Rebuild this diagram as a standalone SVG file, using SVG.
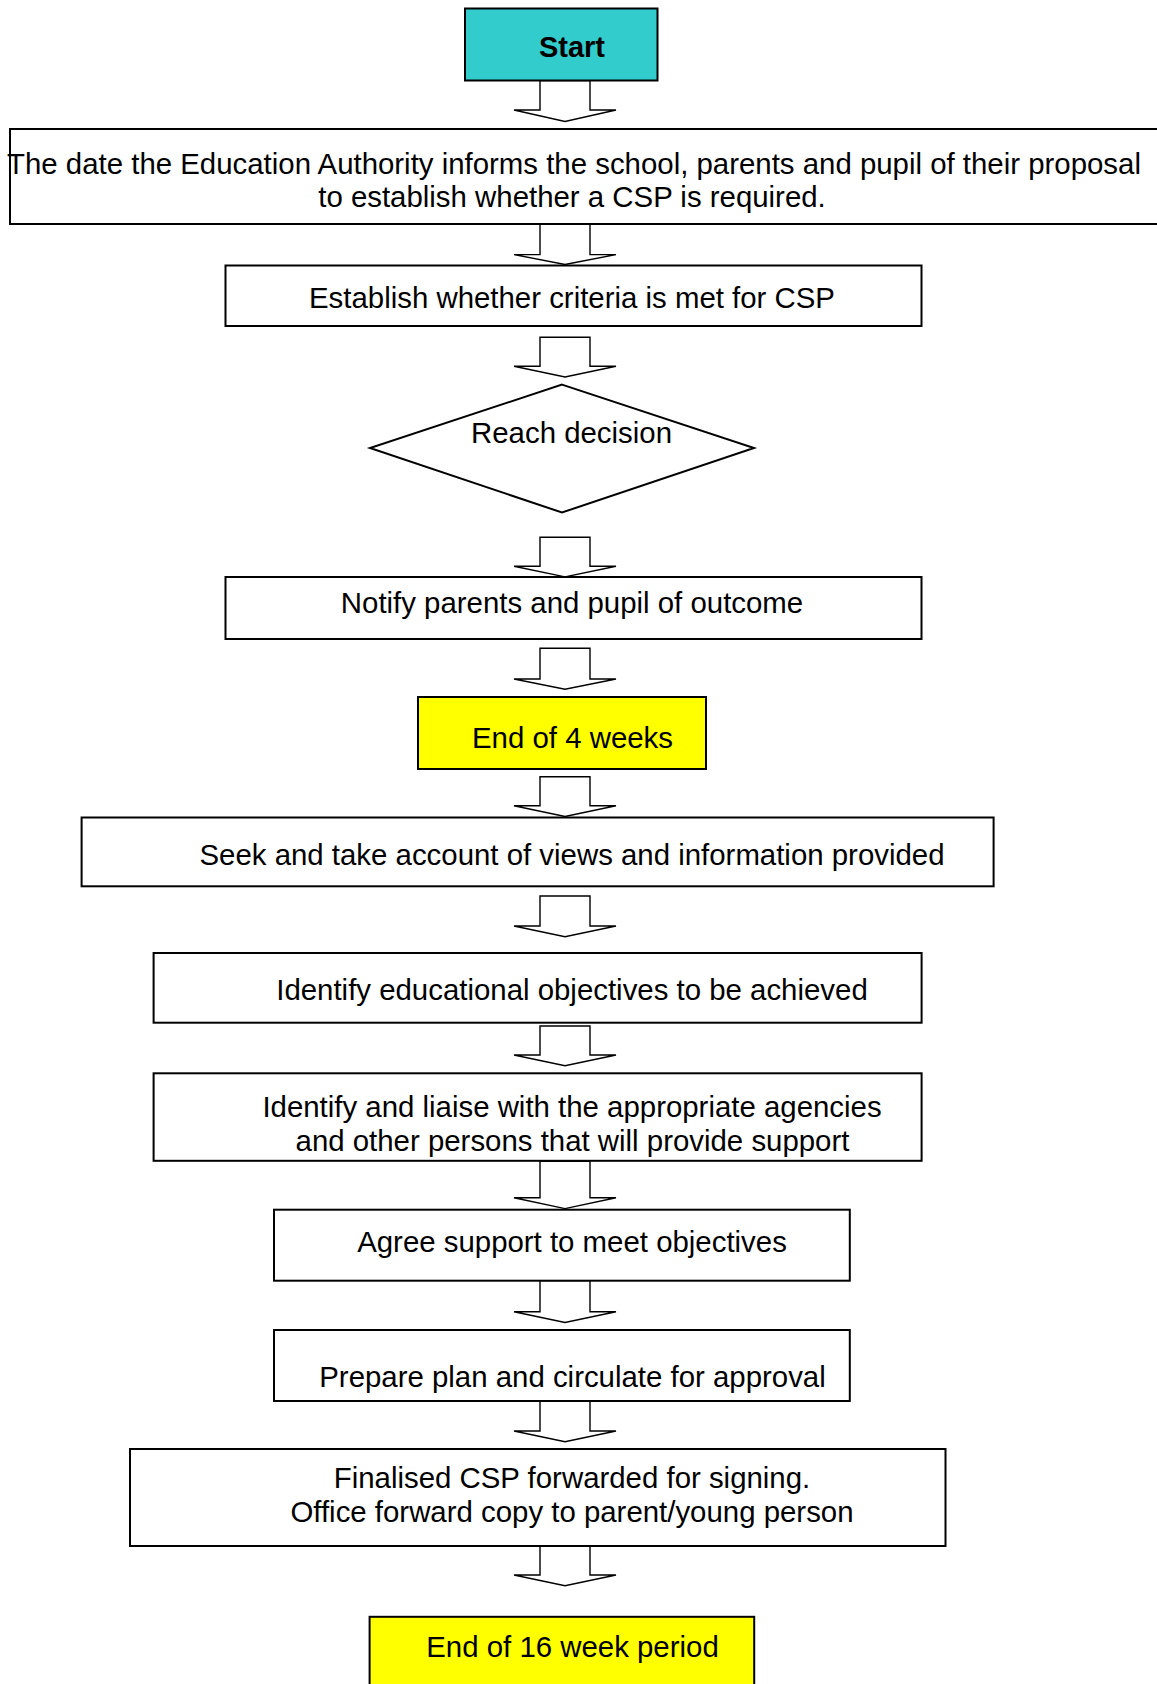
<svg xmlns="http://www.w3.org/2000/svg" width="1157" height="1684" viewBox="0 0 1157 1684">
<style>
.box{fill:#fff;stroke:#000;stroke-width:2}
.start{fill:#33CCCC;stroke:#000;stroke-width:2}
.yel{fill:#FFFF00;stroke:#000;stroke-width:2}
.arr{fill:#fff;stroke:#000;stroke-width:1.4;stroke-linejoin:miter}
text{font-family:"Liberation Sans",Arial,sans-serif;font-size:29.4px;fill:#000;text-anchor:middle}
.b{font-weight:bold;font-size:29px}
</style>
<rect width="1157" height="1684" fill="#fff"/>
<g id="connectors">
<polygon class="arr" points="540,80.5 590,80.5 590,110 616,110 565,121.5 514,110 540,110"/>
<polygon class="arr" points="540,224 590,224 590,254.6 616,254.6 565,264.5 514,254.6 540,254.6"/>
<polygon class="arr" points="540,337.3 590,337.3 590,366.3 616,366.3 565,377 514,366.3 540,366.3"/>
<polygon class="arr" points="540,537.2 590,537.2 590,566.2 616,566.2 565,576.9 514,566.2 540,566.2"/>
<polygon class="arr" points="540,648.3 590,648.3 590,679 616,679 565,689.3 514,679 540,679"/>
<polygon class="arr" points="540,776.7 590,776.7 590,805.7 616,805.7 565,816.5 514,805.7 540,805.7"/>
<polygon class="arr" points="540,896 590,896 590,926 616,926 565,936.8 514,926 540,926"/>
<polygon class="arr" points="540,1026 590,1026 590,1055 616,1055 565,1065.7 514,1055 540,1055"/>
<polygon class="arr" points="540,1161.3 590,1161.3 590,1197.8 616,1197.8 565,1208.6 514,1197.8 540,1197.8"/>
<polygon class="arr" points="540,1280.6 590,1280.6 590,1311.7 616,1311.7 565,1322.5 514,1311.7 540,1311.7"/>
<polygon class="arr" points="540,1401 590,1401 590,1431 616,1431 565,1441.7 514,1431 540,1431"/>
<polygon class="arr" points="540,1546 590,1546 590,1575 616,1575 565,1585.7 514,1575 540,1575"/>
</g>
<g id="start">
<rect class="start" x="465" y="8.5" width="192.5" height="72"/>
<text class="b" x="572" y="57">Start</text>
</g>
<g id="inform">
<rect class="box" x="10" y="129" width="1160" height="95"/>
<text x="574" y="173.5">The date the Education Authority informs the school, parents and pupil of their proposal</text>
<text x="572" y="207">to establish whether a CSP is required.</text>
</g>
<g id="criteria">
<rect class="box" x="225.5" y="265.5" width="696" height="60.5"/>
<text x="572" y="307.5">Establish whether criteria is met for CSP</text>
</g>
<g id="decision">
<polygon class="box" points="562,384.6 754,448 562,512.5 370,448"/>
<text x="571.5" y="443.3">Reach decision</text>
</g>
<g id="notify">
<rect class="box" x="225.5" y="577" width="696" height="62"/>
<text x="572" y="613.3">Notify parents and pupil of outcome</text>
</g>
<g id="end4">
<rect class="yel" x="418" y="697" width="288" height="72"/>
<text x="572.5" y="747.7">End of 4 weeks</text>
</g>
<g id="seek">
<rect class="box" x="81.6" y="817.5" width="912" height="68.8"/>
<text x="572" y="865">Seek and take account of views and information provided</text>
</g>
<g id="objectives">
<rect class="box" x="153.6" y="953" width="768" height="69.7"/>
<text x="572" y="1000">Identify educational objectives to be achieved</text>
</g>
<g id="liaise">
<rect class="box" x="153.6" y="1073.3" width="768" height="87.5"/>
<text x="572" y="1116.7">Identify and liaise with the appropriate agencies</text>
<text x="572.5" y="1150.5">and other persons that will provide support</text>
</g>
<g id="agree">
<rect class="box" x="274" y="1209.7" width="575.8" height="71"/>
<text x="572" y="1252">Agree support to meet objectives</text>
</g>
<g id="prepare">
<rect class="box" x="274" y="1330" width="575.8" height="71"/>
<text x="572.5" y="1387">Prepare plan and circulate for approval</text>
</g>
<g id="finalised">
<rect class="box" x="130" y="1449" width="815.5" height="97"/>
<text x="572" y="1488">Finalised CSP forwarded for signing.</text>
<text x="572" y="1521.5">Office forward copy to parent/young person</text>
</g>
<g id="end16">
<rect class="yel" x="369.6" y="1616.8" width="384.6" height="80"/>
<text x="572.5" y="1656.5">End of 16 week period</text>
</g>
</svg>
